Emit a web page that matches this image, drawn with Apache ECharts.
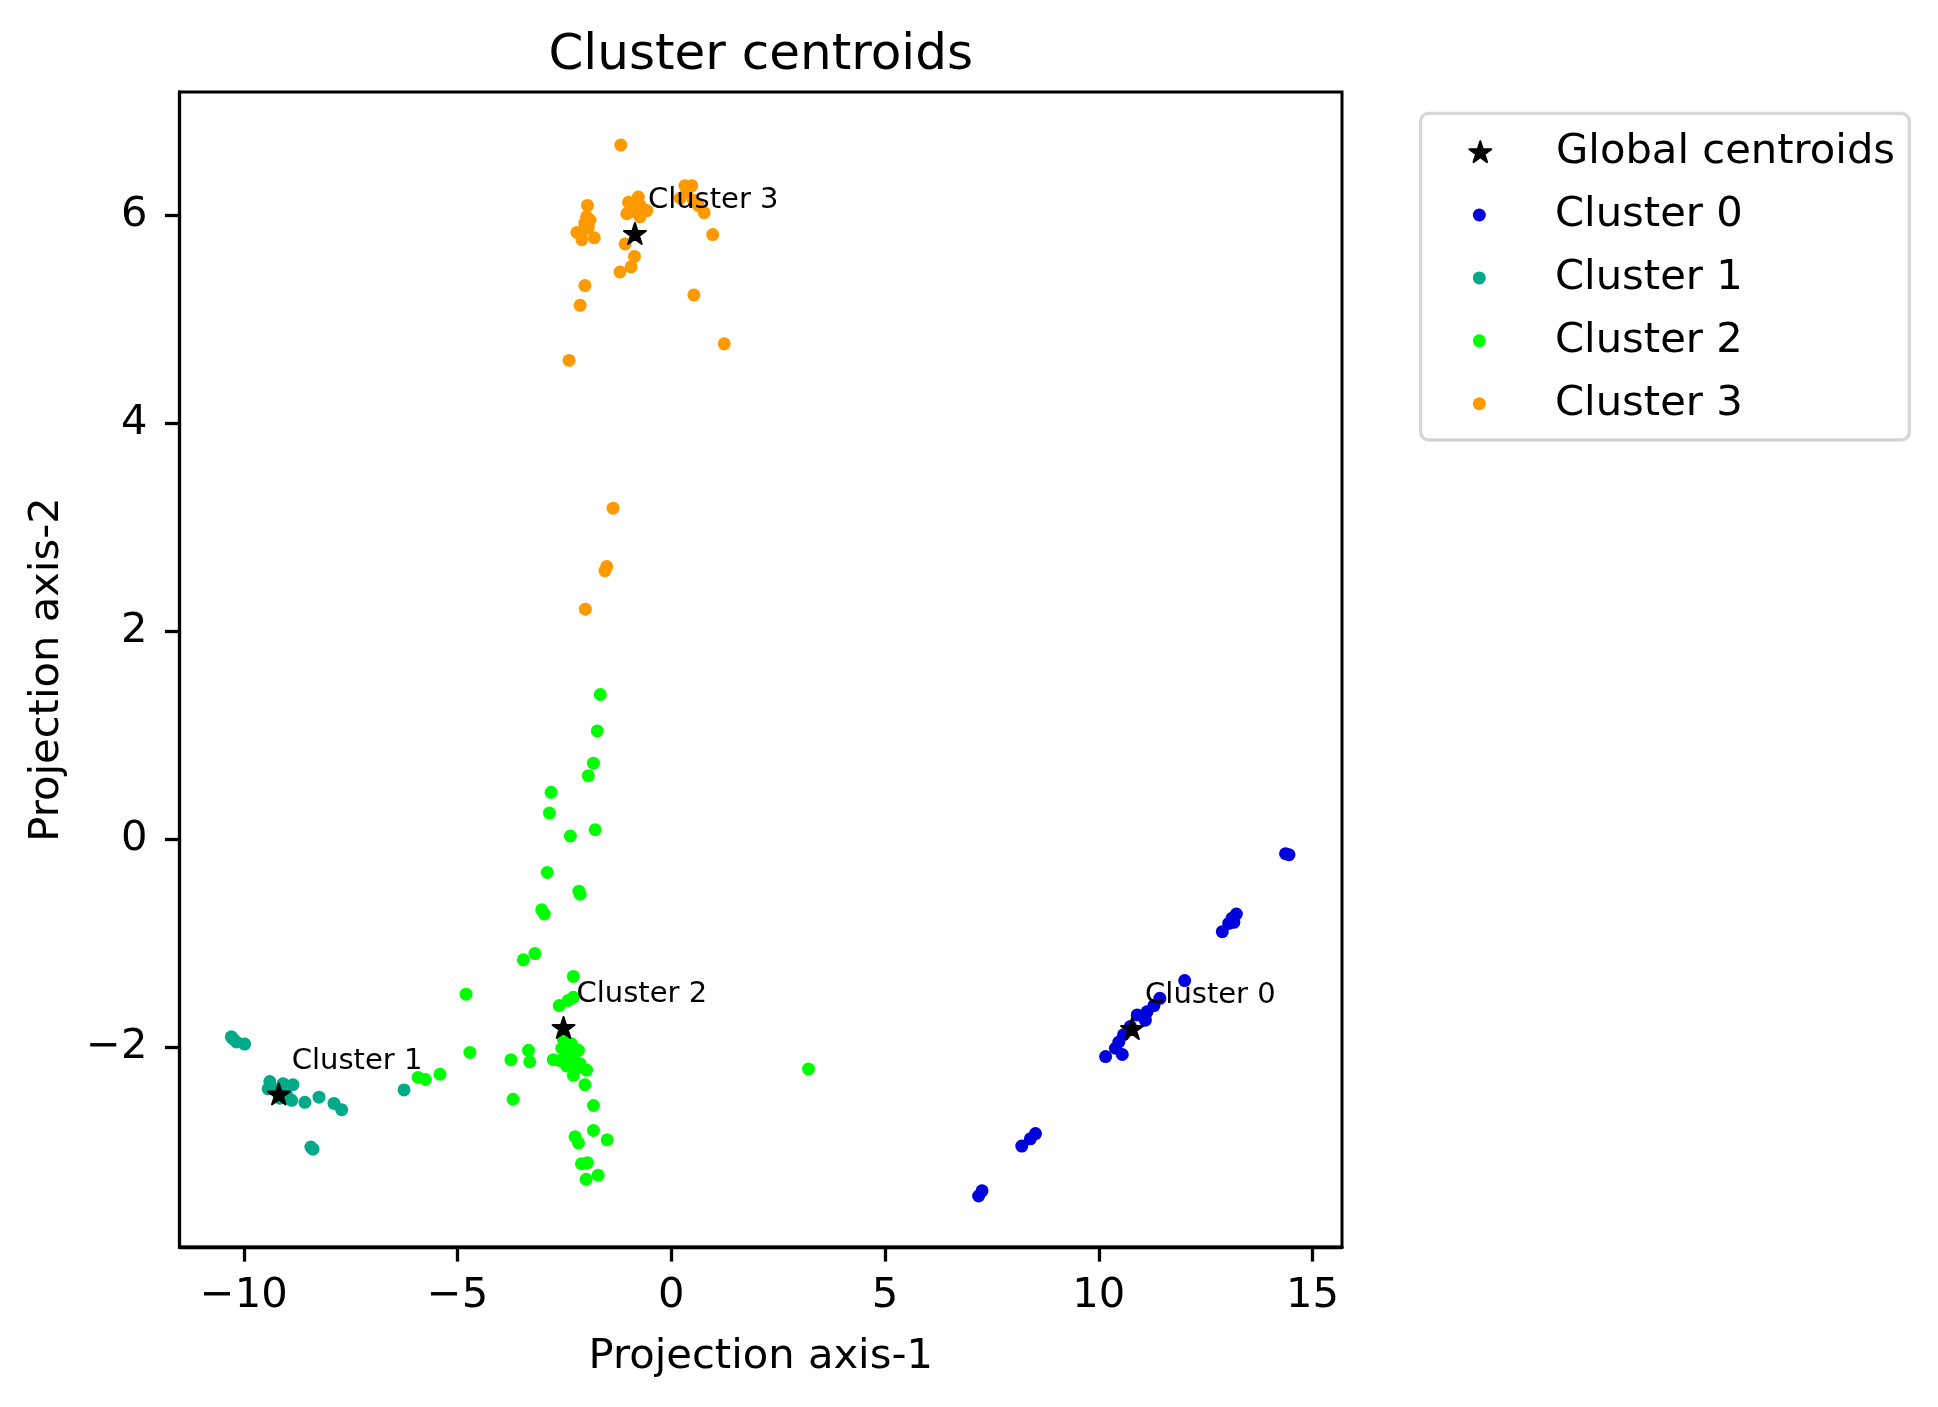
<!DOCTYPE html>
<html>
<head>
<meta charset="utf-8">
<script src="https://cdn.jsdelivr.net/npm/echarts@6/dist/echarts.min.js"></script>
<style>
html,body{margin:0;padding:0;background:#fff;}
#chart{width:1938px;height:1407px;}
</style>
</head>
<body>
<div id="chart"></div>
<script>
// ---- data ----
const seriesNames = ['Cluster 0', 'Cluster 1', 'Cluster 2', 'Cluster 3'];
const clusterColors = ['#0000dd', '#00aa88', '#00ff00', '#ff9900'];

const cluster0 = [[14.45,-0.15],[14.37,-0.14],[13.22,-0.72],[13.12,-0.76],[13.04,-0.81],[12.89,-0.89],[13.16,-0.80],[12.01,-1.36],[11.43,-1.53],[11.29,-1.60],[11.13,-1.66],[10.90,-1.69],[11.09,-1.74],[10.74,-1.80],[10.58,-1.88],[10.47,-1.95],[10.39,-2.01],[10.55,-2.07],[10.16,-2.09],[8.52,-2.83],[8.40,-2.88],[8.20,-2.95],[7.27,-3.38],[7.19,-3.43]];

const cluster1 = [[-10.29,-1.90],[-10.25,-1.92],[-10.17,-1.95],[-9.98,-1.97],[-9.39,-2.33],[-9.08,-2.35],[-8.85,-2.36],[-9.43,-2.40],[-9.23,-2.41],[-9.00,-2.46],[-8.88,-2.51],[-9.16,-2.49],[-8.57,-2.53],[-8.24,-2.48],[-7.89,-2.54],[-7.71,-2.60],[-6.25,-2.41],[-8.43,-2.96],[-8.38,-2.98]];

const cluster2 = [[-1.66,1.39],[-1.73,1.04],[-1.82,0.73],[-1.94,0.61],[-2.81,0.45],[-2.85,0.25],[-1.78,0.09],[-2.36,0.03],[-2.90,-0.32],[-2.16,-0.50],[-2.13,-0.53],[-3.03,-0.68],[-2.97,-0.72],[-3.19,-1.10],[-3.46,-1.16],[-2.29,-1.32],[-4.80,-1.49],[-2.62,-1.60],[-2.41,-1.55],[-2.29,-1.52],[-4.71,-2.05],[-3.75,-2.12],[-3.34,-2.03],[-3.31,-2.14],[-2.52,-1.93],[-2.56,-2.01],[-2.37,-2.00],[-2.17,-2.03],[-2.76,-2.12],[-2.49,-2.09],[-2.25,-2.13],[-2.13,-2.16],[-1.98,-2.22],[-2.29,-2.27],[-2.60,-2.13],[-2.41,-2.06],[-2.45,-2.18],[-2.33,-1.97],[-2.20,-2.20],[-2.02,-2.36],[-3.70,-2.50],[-1.82,-2.56],[3.21,-2.21],[-2.25,-2.86],[-2.17,-2.92],[-1.82,-2.80],[-1.50,-2.89],[-2.10,-3.12],[-1.96,-3.11],[-1.71,-3.23],[-1.99,-3.27],[-5.92,-2.29],[-5.75,-2.31],[-5.41,-2.26]];

const cluster3 = [[-1.18,6.67],[0.32,6.28],[0.48,6.28],[0.36,6.22],[0.21,6.16],[0.52,6.14],[0.63,6.09],[0.77,6.02],[0.97,5.81],[-1.00,6.12],[-0.77,6.17],[-0.96,6.04],[-0.73,6.09],[-0.57,6.04],[-0.85,6.03],[-1.04,6.01],[-0.73,5.98],[-1.08,5.72],[-0.86,5.60],[-0.94,5.50],[-1.20,5.45],[0.53,5.23],[1.24,4.76],[-2.39,4.60],[-1.96,6.09],[-1.98,5.98],[-2.02,5.92],[-2.06,5.85],[-2.21,5.83],[-2.09,5.76],[-1.80,5.78],[-1.90,5.95],[-1.94,5.88],[-2.02,5.32],[-2.13,5.13],[-1.36,3.18],[-1.51,2.62],[-1.55,2.58],[-2.01,2.21]];

const centroids = [[10.78,-1.82],[-9.18,-2.45],[-2.52,-1.81],[-0.85,5.82]];
const centroidLabels = ['Cluster 0', 'Cluster 1', 'Cluster 2', 'Cluster 3'];

const xTicks = [-10, -5, 0, 5, 10, 15];
const yTicks = [-2, 0, 2, 4, 6];

// ---- chart ----
const FONT = 'DejaVu Sans';
const STAR = 'path://M0,-1 L0.2245,-0.309 L0.951,-0.309 L0.363,0.118 L0.588,0.809 L0,0.382 L-0.588,0.809 L-0.363,0.118 L-0.951,-0.309 L-0.2245,-0.309 Z';
const fmt = v => (v < 0 ? '\u2212' + Math.abs(v) : String(v));

const clusterData = [cluster0, cluster1, cluster2, cluster3];

const series = [{
  name: 'Global centroids',
  type: 'scatter',
  symbol: STAR,
  symbolSize: 22,
  symbolKeepAspect: true,
  z: 5,
  itemStyle: { color: '#000', opacity: 1, borderColor: '#000', borderWidth: 2, borderJoin: 'round' },
  label: {
    show: true,
    position: 'right',
    distance: 1,
    offset: [0, -33],
    formatter: p => p.name,
    fontFamily: FONT,
    fontSize: 29,
    color: '#000'
  },
  emphasis: { disabled: true },
  data: centroids.map((c, i) => ({ name: centroidLabels[i], value: c }))
}];
clusterData.forEach((d, i) => {
  series.push({
    name: seriesNames[i],
    type: 'scatter',
    symbol: 'circle',
    symbolSize: 13,
    z: 2,
    itemStyle: { color: clusterColors[i], opacity: 1 },
    emphasis: { disabled: true },
    data: d
  });
});

const legendText = { fontFamily: FONT, fontSize: 41.7, lineHeight: 42, color: '#000', padding: [0, 0, 0, 59.7] };

const option = {
  animation: false,
  backgroundColor: '#fff',
  title: {
    text: 'Cluster centroids',
    left: 760.7,
    top: 31,
    textAlign: 'center',
    padding: 0,
    textStyle: { fontFamily: FONT, fontSize: 50, lineHeight: 50, fontWeight: 'normal', color: '#000' }
  },
  grid: {
    left: 179.5, right: 596, top: 92, bottom: 160,
    show: true, borderColor: '#000', borderWidth: 3, backgroundColor: 'transparent'
  },
  graphic: [{
    type: 'rect',
    z: -1,
    shape: { x: 1420.7, y: 113.3, width: 488.6, height: 326.7, r: 8 },
    style: { fill: '#fff', stroke: '#d6d6d6', lineWidth: 3.3 }
  }],
  legend: [{
    data: ['Global centroids'],
    left: 1468.3, top: 130.7, padding: 0,
    itemWidth: 22, itemHeight: 22,
    selectedMode: false,
    textStyle: legendText
  }, {
    data: seriesNames,
    orient: 'vertical',
    left: 1472.8, top: 194, padding: 0,
    itemWidth: 22, itemHeight: 13, itemGap: 20.9,
    selectedMode: false,
    textStyle: legendText
  }],
  xAxis: {
    type: 'value',
    min: -11.503, max: 15.69,
    name: 'Projection axis-1',
    nameLocation: 'middle',
    nameGap: 89,
    nameTextStyle: { fontFamily: FONT, fontSize: 41.7, lineHeight: 42, color: '#000' },
    axisLine: { show: true, onZero: false, lineStyle: { color: '#000', width: 3.3 } },
    axisTick: { show: true, length: 14.6, customValues: xTicks, lineStyle: { color: '#000', width: 3.3 } },
    axisLabel: { customValues: xTicks, formatter: fmt, margin: 28, fontFamily: FONT, fontSize: 41.7, lineHeight: 42, color: '#000' },
    splitLine: { show: false }
  },
  yAxis: {
    type: 'value',
    min: -3.92, max: 7.18,
    name: 'Projection axis-2',
    nameLocation: 'middle',
    nameGap: 111,
    nameTextStyle: { fontFamily: FONT, fontSize: 41.7, lineHeight: 42, color: '#000' },
    axisLine: { show: true, onZero: false, lineStyle: { color: '#000', width: 3.3 } },
    axisTick: { show: true, length: 14.6, customValues: yTicks, lineStyle: { color: '#000', width: 3.3 } },
    axisLabel: { customValues: yTicks, formatter: fmt, margin: 32, fontFamily: FONT, fontSize: 41.7, lineHeight: 42, color: '#000' },
    splitLine: { show: false }
  },
  series: series
};

const chart = echarts.init(document.getElementById('chart'), null, { renderer: 'canvas' });
chart.setOption(option);
</script>
</body>
</html>
